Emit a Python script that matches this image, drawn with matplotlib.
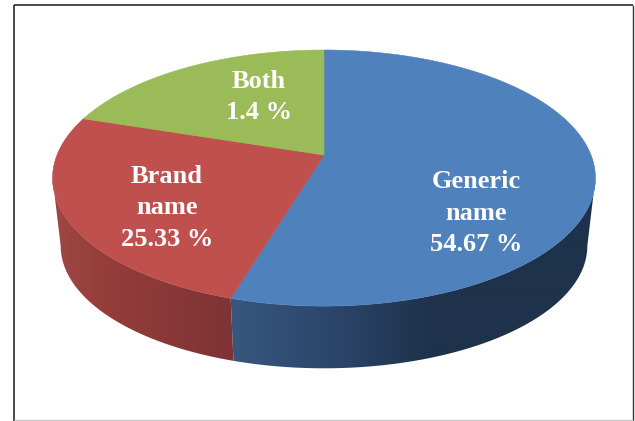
import numpy as np
import matplotlib
matplotlib.use("Agg")
import matplotlib.pyplot as plt
from matplotlib.patches import Polygon

# Data: the slices as drawn (clockwise from 12 o'clock) and their printed labels
categories = ["Generic\nname", "Brand\nname", "Both"]
slice_shares = [54.67, 25.33, 20.0]
printed_values = ["54.67 %", "25.33 %", "1.4 %"]
top_colors = ["#4F81BD", "#C0504D", "#9BBB59"]

W, H = 635, 421
fig = plt.figure(figsize=(W / 100, H / 100), dpi=100)
ax = fig.add_axes([0, 0, 1, 1])
ax.axis("off")

CX, K = 324.0, 0.18


def top_pt(t):
    x, y = np.sin(t), np.cos(t)
    d = 1 + K * y
    return CX + 267 * x / d, (155 - 96 * y) / d


def bot_pt(t):
    x, y = np.sin(t), np.cos(t)
    d = 1 + K * y
    return CX + 259 * x / d, (224 - 78 * y) / d


# wall shading, as offsets in pixels from the blue/red seam
shade = {
    0: ([0, 108, 198, 420], [(56, 87, 127), (43, 68, 105), (30, 50, 75), (30, 50, 75)]),
    1: ([-180, -132, 0], [(160, 72, 68), (150, 62, 60), (127, 51, 52)]),
}

edges = np.radians(np.concatenate([[0], np.cumsum(slice_shares)]) * 3.6)
vis_lo, vis_hi = np.arccos(-K), 2 * np.pi - np.arccos(-K)
seam_x = top_pt(edges[1])[0]

# walls: a horizontal gradient clipped to the visible part of each slice
for i in range(len(slice_shares)):
    lo, hi = max(edges[i], vis_lo), min(edges[i + 1], vis_hi)
    if hi <= lo:
        continue
    ts = np.linspace(lo, hi, 200)
    tx, ty = top_pt(ts)
    bx, by = bot_pt(ts[::-1])
    outline = Polygon(list(zip(tx, ty)) + list(zip(bx, by)), closed=True,
                      transform=ax.transData, facecolor="none", edgecolor="none")
    ax.add_patch(outline)
    x0, x1 = min(tx.min(), bx.min()) - 2, max(tx.max(), bx.max()) + 2
    xs = np.arange(x0, x1, 1.0) + 0.5
    stops, cols = shade[i]
    cols = np.array(cols, dtype=float) / 255
    grad = np.stack([np.interp(xs - seam_x, stops, cols[:, c]) for c in range(3)], axis=-1)
    im = ax.imshow(grad[np.newaxis, :, :], extent=(x0, x0 + len(xs), H, 0),
                   aspect="auto", interpolation="bilinear", zorder=1)
    im.set_clip_path(outline)

ax.set_xlim(0, W)
ax.set_ylim(H, 0)

# top faces
for i in range(len(slice_shares)):
    ts = np.linspace(edges[i], edges[i + 1], 240)
    px, py = top_pt(ts)
    pts = [(CX, 155.0)] + list(zip(px, py))
    ax.add_patch(Polygon(pts, closed=True, facecolor=top_colors[i],
                         edgecolor=top_colors[i], lw=0.4, zorder=2))

# labels
label_pos = [(476, 213), (167, 208), (259, 97)]
for cat, val, (lx, ly) in zip(categories, printed_values, label_pos):
    ax.text(lx, ly, f"{cat}\n{val}", color="white", ha="center", va="center",
            family="Liberation Serif", fontweight="bold", fontsize=19,
            linespacing=1.45, zorder=3)

# frame
ax.plot([14, 14], [4.5, 421], color="#1a1a1a", lw=1.1, solid_capstyle="butt", zorder=4)
ax.plot([14, 633], [4.5, 4.5], color="#1a1a1a", lw=1.1, solid_capstyle="butt", zorder=4)
ax.plot([632.7, 632.7], [4.5, 421], color="#333333", lw=1.0, solid_capstyle="butt", zorder=4)
ax.plot([14, 633], [420, 420], color="#c8c8c8", lw=1.0, solid_capstyle="butt", zorder=4)

fig.savefig("out.png", dpi=100, facecolor="white")
